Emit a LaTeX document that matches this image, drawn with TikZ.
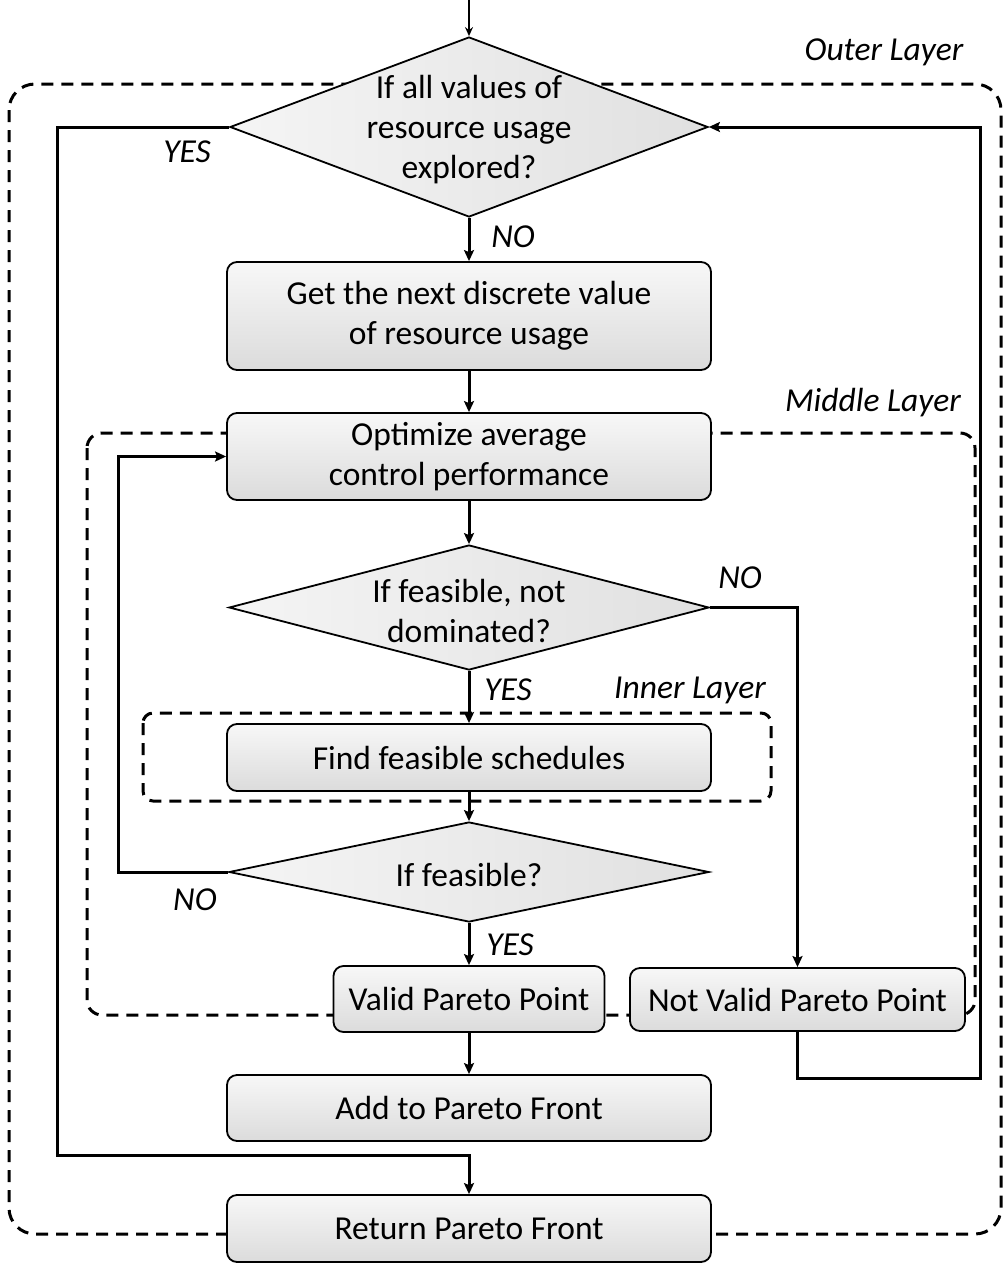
\documentclass[tikz,border=0pt]{standalone}
\usepackage{fontspec}
\setmainfont{Carlito}
\usetikzlibrary{shapes.geometric,arrows.meta}
\begin{document}
\begin{tikzpicture}[x=1pt,y=-1pt,
  every node/.style={font=\fontsize{33.5}{40}\selectfont},
  stepbox/.style={draw=black,line width=1.8pt,rounded corners=10pt,
    top color=gray!6,bottom color=gray!28,align=center,inner sep=0pt},
  dia/.style={draw=black,line width=1.8pt,shape=diamond,inner sep=0pt,
    left color=gray!8,right color=gray!24},
  txt/.style={align=center,inner sep=0pt,yshift=-3pt},
  lbl/.style={font=\fontsize{33.5}{40}\selectfont\itshape,inner sep=0pt},
  layer/.style={draw=black,line width=3pt,dash pattern=on 12pt off 8pt},
  arr/.style={draw=black,line width=3pt,-{Stealth[length=11pt,width=10pt,inset=2pt]}}]
\useasboundingbox (0,0) rectangle (1004,1264);

% layer frames (behind the steps)
\draw[layer,rounded corners=26pt] (9,84) rectangle (1001,1234);
\draw[layer,rounded corners=15pt] (87,433) rectangle (975,1015);
\draw[layer,rounded corners=10pt] (143,713) rectangle (771,801);

% steps
\node[dia,minimum width=478pt,minimum height=180pt] (d1) at (469,127) {};
\node[txt] (d1t) at (d1.center) {If all values of\\resource usage\\explored?};
\node[stepbox,minimum width=484pt,minimum height=108pt] (b1) at (469,316) {Get the next discrete value\\of resource usage};
\node[stepbox,minimum width=484pt,minimum height=87pt] (b2) at (469,456.5) {Optimize average\\control performance};
\node[dia,minimum width=480pt,minimum height=125pt] (d2) at (469,607.5) {};
\node[txt] (d2t) at (d2.center) {If feasible, not\\dominated?};
\node[stepbox,minimum width=484pt,minimum height=67pt] (b3) at (469,757.5) {Find feasible schedules};
\node[dia,minimum width=480pt,minimum height=100pt] (d3) at (469,872) {};
\node[txt] (d3t) at (d3.center) {If feasible?};
\node[stepbox,minimum width=271pt,minimum height=66pt] (vp) at (469,999) {Valid Pareto Point};
\node[stepbox,minimum width=335pt,minimum height=63pt] (nv) at (797.5,999.5) {Not Valid Pareto Point};
\node[stepbox,minimum width=484pt,minimum height=66pt] (add) at (469,1108) {Add to Pareto Front};
\node[stepbox,minimum width=484pt,minimum height=67pt] (ret) at (469,1228.5) {Return Pareto Front};

% layer names and branch labels
\node[lbl] (lo) at (884,52) {Outer Layer};
\node[lbl] (lm) at (873,403) {Middle Layer};
\node[lbl] (li) at (690,690) {Inner Layer};
\node[lbl] (y1) at (187,152) {YES};
\node[lbl] (n1) at (513,237) {NO};
\node[lbl] (n2) at (740,578) {NO};
\node[lbl] (y2) at (508,690) {YES};
\node[lbl] (n3) at (195,900) {NO};
\node[lbl] (y3) at (510,945) {YES};

% connectors
\coordinate (start) at (469,0);
\coordinate (lloop) at (57,1155);
\coordinate (rloop) at (980,1078);
\coordinate (back) at (118,872);
\draw[draw=black,line width=1.5pt,-{Stealth[length=9pt,width=8pt,inset=3pt]}] (start) -- (d1.north);
\draw[arr] (d1.south) -- (b1.north);
\draw[arr] (b1.south) -- (b2.north);
\draw[arr] (b2.south) -- (d2.north);
\draw[arr] (d2.south) -- (b3.north);
\draw[arr] (b3.south) -- (d3.north);
\draw[arr] (d3.south) -- (vp.north);
\draw[arr] (vp.south) -- (add.north);
\draw[arr] (d2.east) -| (nv.north);
\draw[arr] (d3.west) -- (back) |- (b2.west);
\draw[arr] (nv.south) |- (rloop) |- (d1.east);
\draw[arr] (d1.west) -| (lloop) -| (ret.north);
\end{tikzpicture}
\end{document}
